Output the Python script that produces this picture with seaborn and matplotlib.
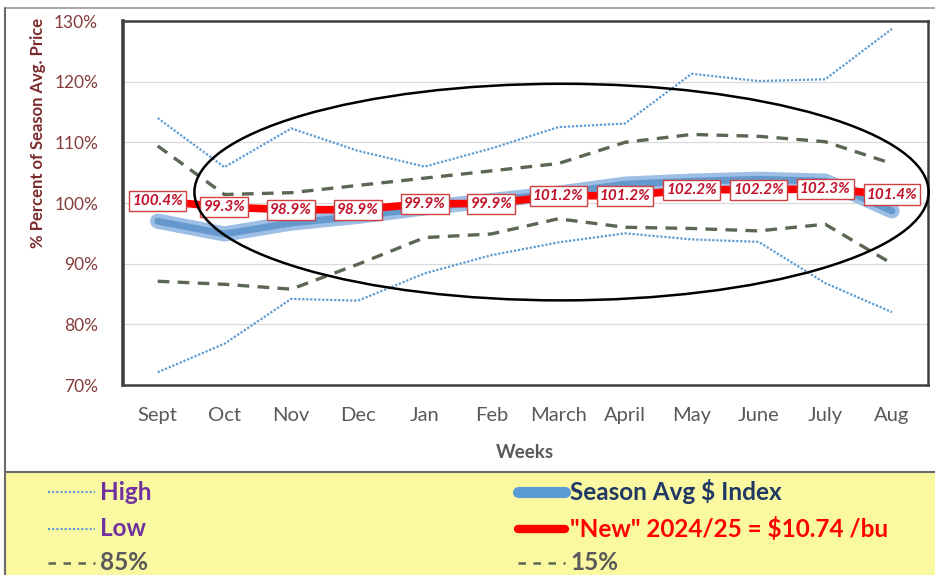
import matplotlib
matplotlib.use("Agg")
import matplotlib.pyplot as plt
import seaborn as sns
import pandas as pd
from matplotlib.patches import Ellipse, Rectangle
from matplotlib.lines import Line2D

# ---------------- data ----------------
months = ["Sept", "Oct", "Nov", "Dec", "Jan", "Feb", "March", "April", "May", "June", "July", "Aug"]
high = [114.0, 105.9, 112.3, 108.6, 106.0, 109.0, 112.5, 113.1, 121.3, 120.1, 120.4, 128.7]
low = [72.1, 76.8, 84.2, 83.9, 88.4, 91.4, 93.5, 95.0, 94.0, 93.6, 86.8, 82.0]
pct85 = [109.4, 101.4, 101.7, 102.9, 104.1, 105.3, 106.5, 110.0, 111.3, 111.0, 110.1, 106.5]
pct15 = [87.1, 86.6, 85.8, 89.9, 94.3, 94.9, 97.4, 96.0, 95.8, 95.4, 96.5, 90.0]
season_avg = [97.0, 94.9, 96.7, 97.8, 99.2, 100.4, 101.6, 103.1, 103.6, 103.9, 103.6, 98.7]
new_2425 = [100.4, 99.3, 98.9, 98.9, 99.9, 99.9, 101.2, 101.2, 102.2, 102.2, 102.3, 101.4]
yticks = [70, 80, 90, 100, 110, 120, 130]
ytick_labels = ["70%", "80%", "90%", "100%", "110%", "120%", "130%"]

df = pd.DataFrame({
    "x": range(len(months)), "month": months, "high": high, "low": low,
    "p85": pct85, "p15": pct15, "avg": season_avg, "new": new_2425,
})

FONT = ["Lato", "DejaVu Sans"]
sns.set_theme(style="white")
plt.rcParams["font.family"] = FONT

fig = plt.figure(figsize=(9.35, 5.75), dpi=100)
W, H = 935, 575

def fx(px):
    return px / W

def fy(py):
    return 1 - py / H

# background frame + yellow legend band
fig.patches.append(Rectangle((fx(5), 0), fx(935) - fx(5), fy(472), transform=fig.transFigure,
                             facecolor="#FBF8A2", edgecolor="none", zorder=0))
fig.add_artist(Line2D([fx(5), 1], [fy(8), fy(8)], color="#9A9A9A", lw=1.2))
fig.add_artist(Line2D([fx(5), fx(5)], [0, fy(8)], color="#6A6A6A", lw=1.5))
fig.add_artist(Line2D([fx(5), 1], [fy(472), fy(472)], color="#6A6A6A", lw=1.5))

ax = fig.add_axes([fx(123), fy(385), fx(928) - fx(123), fy(21) - fy(385)])
ax.set_facecolor("white")

blue = "#5B9BD5"
dash_col = "#5B6653"

sns.lineplot(data=df, x="x", y="high", ax=ax, color=blue, lw=1.6, linestyle=(0, (1, 0.8)), zorder=3)
sns.lineplot(data=df, x="x", y="low", ax=ax, color=blue, lw=1.6, linestyle=(0, (1, 0.8)), zorder=3)
sns.lineplot(data=df, x="x", y="p85", ax=ax, color=dash_col, lw=2.4, linestyle=(0, (3.5, 2.5)), zorder=3)
sns.lineplot(data=df, x="x", y="p15", ax=ax, color=dash_col, lw=2.4, linestyle=(0, (3.5, 2.5)), zorder=3)
sns.lineplot(data=df, x="x", y="avg", ax=ax, color="#9DBFE6", lw=11, solid_capstyle="round", zorder=4)
sns.lineplot(data=df, x="x", y="avg", ax=ax, color="#2E75B6", lw=5, alpha=0.5, solid_capstyle="round", zorder=4)
sns.lineplot(data=df, x="x", y="new", ax=ax, color="#FF0000", lw=5.5, zorder=5)

for i, v in enumerate(new_2425):
    ax.text(i, v, f"{v:.1f}%", ha="center", va="center", fontsize=11, fontweight="bold",
            fontstyle="italic", color="#C0102A", zorder=7,
            bbox=dict(boxstyle="square,pad=0.2", fc="white", ec="#D04040", lw=1.0))

ax.add_patch(Ellipse((6.05, 101.8), 11.0, 35.7, fill=False, ec="black", lw=1.8, zorder=8, clip_on=False))

ax.set_xlim(-0.52, 11.54)
ax.set_ylim(70, 130)
ax.set_xticks(range(len(months)))
ax.set_xticklabels(months, fontsize=14.5, color="#595959")
ax.set_yticks(yticks)
ax.set_yticklabels(ytick_labels, fontsize=12.5, color="#843C3C")
ax.tick_params(axis="x", length=0, pad=16)
ax.tick_params(axis="y", length=0, pad=18)
ax.grid(axis="y", color="#DADADA", lw=0.9)
ax.set_xlabel("")
ax.set_ylabel("")
for side, s in ax.spines.items():
    s.set_visible(True)
    s.set_color("#3F3F3F")
    s.set_linewidth(1.8)
ax.spines["left"].set_linewidth(2.6)

fig.text(fx(525), fy(452), "Weeks", ha="center", va="center", fontsize=13.5, fontweight="bold", color="#595959")
fig.text(fx(38), fy(133), "% Percent of Season Avg. Price", ha="center", va="center", rotation=90,
         fontsize=12, fontweight="bold", color="#7B2B2B")

# ---------------- legend ----------------
leg_items = [
    (48, 492, "High", "#7030A0", dict(color=blue, lw=1.5, linestyle=(0, (1, 1)))),
    (48, 529, "Low", "#7030A0", dict(color=blue, lw=1.5, linestyle=(0, (1, 1)))),
    (48, 563, "85%", "#595959", dict(color=dash_col, lw=1.8, linestyle=(0, (3, 3)))),
    (518, 492, "Season Avg $ Index", "#1F3864", dict(color="#5B9BD5", lw=8, solid_capstyle="round")),
    (518, 529, '"New" 2024/25 = $10.74 /bu', "#FF0000", dict(color="#FF0000", lw=6, solid_capstyle="round")),
    (518, 563, "15%", "#595959", dict(color=dash_col, lw=1.8, linestyle=(0, (3, 3)))),
]
for x0, y0, label, tcol, style in leg_items:
    fig.add_artist(Line2D([fx(x0), fx(x0 + 47)], [fy(y0), fy(y0)], **style))
    fig.text(fx(x0 + 52), fy(y0), label, ha="left", va="center", fontsize=17.5,
             fontweight="bold", color=tcol)

fig.savefig("out.png", dpi=100)
